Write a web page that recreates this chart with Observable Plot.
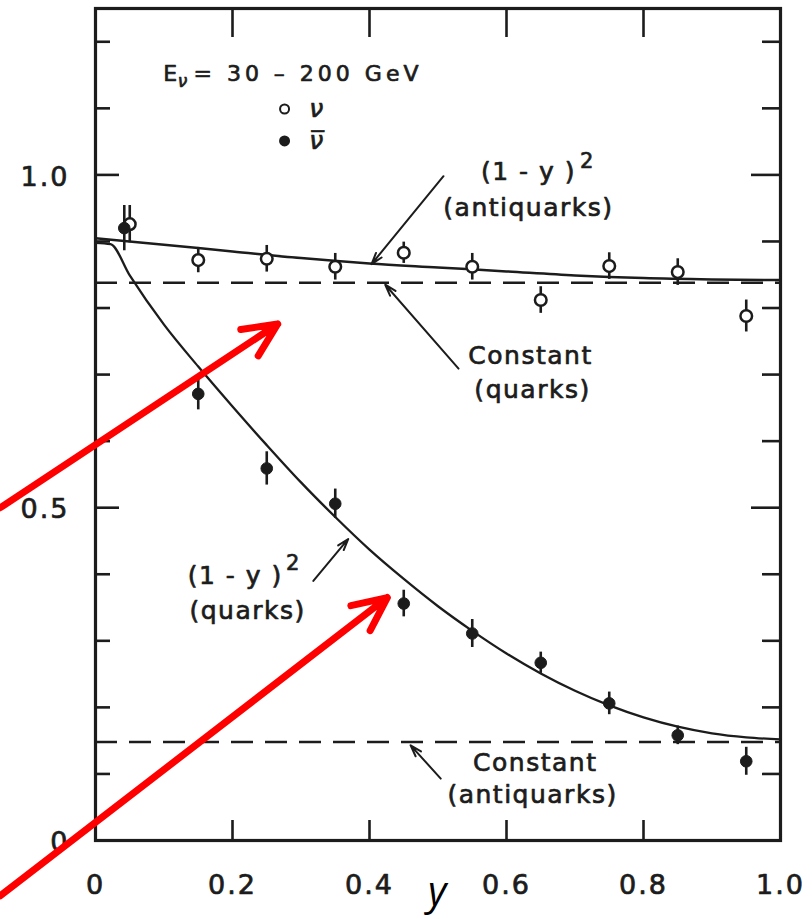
<!DOCTYPE html>
<html>
<head>
<meta charset="utf-8">
<script src="https://cdn.jsdelivr.net/npm/d3@7"></script>
<script src="https://cdn.jsdelivr.net/npm/@observablehq/plot@0.6"></script>
<style>
  html, body { margin: 0; padding: 0; background: #fff; }
  #chart svg text { letter-spacing: 1.5px; }
  #chart svg .wide text { letter-spacing: 4px; }
  #chart svg .digits text { letter-spacing: 2px; }
</style>
</head>
<body>
<div id="chart"></div>
<script>
// ---- axes -------------------------------------------------------------
const xTickValues = [0, 0.2, 0.4, 0.6, 0.8, 1.0];
const xTickLabels = ["0", "0.2", "0.4", "0.6", "0.8", "1.0"];
const xInnerTicks = [0.2, 0.4, 0.6, 0.8];
const yTickValues = [0, 0.5, 1.0];
const yTickLabels = ["0", "0.5", "1.0"];
const yMinorTicks = [0.1, 0.2, 0.3, 0.4, 0.6, 0.7, 0.8, 0.9, 1.1, 1.2];
const yMajorTicks = [0.5, 1.0];
const axisTitle = ["y"];

// ---- measured distributions (E = 30-200 GeV) --------------------------
// neutrino (open circles)
const nuBins   = [0.05, 0.15, 0.25, 0.35, 0.45, 0.55, 0.65, 0.75, 0.85, 0.95];
const nuValues = [0.926, 0.872, 0.874, 0.862, 0.883, 0.862, 0.812, 0.863, 0.854, 0.788];
const nuErrors = [0.028, 0.019, 0.020, 0.020, 0.016, 0.020, 0.020, 0.020, 0.020, 0.024];
// antineutrino (filled circles)
const nubarBins   = [0.042, 0.15, 0.25, 0.35, 0.45, 0.55, 0.65, 0.75, 0.85, 0.95];
const nubarValues = [0.920, 0.671, 0.559, 0.506, 0.356, 0.311, 0.267, 0.206, 0.158, 0.119];
const nubarErrors = [0.034, 0.024, 0.025, 0.022, 0.020, 0.021, 0.016, 0.017, 0.014, 0.021];

// ---- model curves -----------------------------------------------------
const nuCurveY      = [0, 0.1, 0.2, 0.3, 0.4, 0.5, 0.6, 0.7, 0.8, 0.9, 1.0];
const nuCurveValues = [0.905, 0.895, 0.885, 0.875, 0.867, 0.861, 0.855, 0.849, 0.845, 0.843, 0.842];
const nubarCurveY = [0, 0.022, 0.05, 0.1, 0.15, 0.2, 0.25, 0.3, 0.35, 0.4, 0.45, 0.5,
                     0.55, 0.6, 0.65, 0.7, 0.75, 0.8, 0.85, 0.9, 0.95, 1.0];
const nubarCurveValues = [0.898, 0.896, 0.849, 0.775, 0.712, 0.652, 0.594, 0.538, 0.486, 0.437, 0.393,
                          0.352, 0.315, 0.281, 0.251, 0.225, 0.203, 0.185, 0.171, 0.161, 0.155, 0.152];
const constantLevels = [0.838, 0.148];

// ---- annotations ------------------------------------------------------
const noteLabels = ["(1 - y )", "(antiquarks)", "Constant", "(quarks)",
                    "(1 - y )", "(quarks)", "Constant", "(antiquarks)"];
const noteX = [0.632, 0.632, 0.635, 0.638, 0.204, 0.222, 0.642, 0.638];
const noteY = [1.005, 0.950, 0.728, 0.677, 0.398, 0.345, 0.116, 0.069];
const powerLabels = ["2", "2"];
const powerX = [0.718, 0.289];
const powerY = [1.021, 0.416];

// pointer lines from labels to curves
const pointerX1 = [0.508, 0.530, 0.318, 0.504];
const pointerY1 = [0.998, 0.709, 0.390, 0.093];
const pointerX2 = [0.403, 0.423, 0.369, 0.460];
const pointerY2 = [0.866, 0.835, 0.453, 0.143];

// red highlight arrows
const highlightX1 = [-0.139, -0.139];
const highlightY1 = [0.500, -0.083];
const highlightX2 = [0.266, 0.426];
const highlightY2 = [0.776, 0.365];

// heading and key
const headingParts = ["E", "ν", "= 30 – 200 GeV"];
const headingX = [0.099, 0.120, 0.143];
const headingY = [1.152, 1.141, 1.152];
const keyLabels = ["ν", "ν\u0305"];
const keyFilled = [false, true];
const keyX = [0.276, 0.276];
const keyTextX = [0.312, 0.312];
const keyY = [1.099, 1.051];

// ---- tables -----------------------------------------------------------
const nu = nuBins.map((b, i) => ({y: b, v: nuValues[i], e: nuErrors[i]}));
const nubar = nubarBins.map((b, i) => ({y: b, v: nubarValues[i], e: nubarErrors[i]}));
const nuCurve = nuCurveY.map((y, i) => ({y, v: nuCurveValues[i]}));
const nubarCurve = nubarCurveY.map((y, i) => ({y, v: nubarCurveValues[i]}));
const notes = noteLabels.map((t, i) => ({t, x: noteX[i], y: noteY[i]}));
const powers = powerLabels.map((t, i) => ({t, x: powerX[i], y: powerY[i]}));
const pointers = pointerX1.map((x1, i) => ({x1, y1: pointerY1[i], x2: pointerX2[i], y2: pointerY2[i]}));
const highlights = highlightX1.map((x1, i) => ({x1, y1: highlightY1[i], x2: highlightX2[i], y2: highlightY2[i]}));
const heading = headingParts.map((t, i) => ({t, x: headingX[i], y: headingY[i]}));
const key = keyLabels.map((t, i) => ({t, filled: keyFilled[i], x: keyX[i], tx: keyTextX[i], y: keyY[i]}));
const xTicks = xTickValues.map((v, i) => ({v, t: xTickLabels[i]}));
const yTicks = yTickValues.map((v, i) => ({v, t: yTickLabels[i]}));

const ink = "#1c1c1c";
const font = "DejaVu Sans";
const W = 812, H = 919, ML = 95, MR = 32, MT = 8, MB = 79;
const FW = W - ML - MR, FH = H - MT - MB;
// a thin outline in the ink colour gives the lettering its heavier weight
const heavy = {fill: ink, stroke: ink, strokeWidth: 0.7};

const chart = Plot.plot({
  width: W, height: H,
  marginLeft: ML, marginRight: MR, marginTop: MT, marginBottom: MB,
  x: {domain: [0, 1], axis: null},
  y: {domain: [0, 1.25], axis: null},
  style: {background: "#fff", fontFamily: font, color: ink, overflow: "visible"},
  marks: [
    // tick labels
    Plot.text(xTicks, {x: "v", text: "t", frameAnchor: "bottom", dy: 45, lineAnchor: "middle",
                       fontSize: 27, className: "digits", ...heavy}),
    Plot.text(yTicks, {y: "v", text: "t", frameAnchor: "left", textAnchor: "end", dx: -26, dy: 2,
                       fontSize: 27, className: "digits", ...heavy}),
    // inward tick marks on all four sides
    Plot.tickY(yMinorTicks, {y: d => d, insetRight: FW - 15, stroke: ink, strokeWidth: 2.6}),
    Plot.tickY(yMajorTicks, {y: d => d, insetRight: FW - 24, stroke: ink, strokeWidth: 2.6}),
    Plot.tickY(yMinorTicks, {y: d => d, insetLeft: FW - 18, stroke: ink, strokeWidth: 2.6}),
    Plot.tickY(yMajorTicks, {y: d => d, insetLeft: FW - 29, stroke: ink, strokeWidth: 2.6}),
    Plot.tickX(xInnerTicks, {x: d => d, insetTop: FH - 20, stroke: ink, strokeWidth: 2.6}),
    Plot.tickX(xInnerTicks, {x: d => d, insetBottom: FH - 29, stroke: ink, strokeWidth: 2.6}),
    Plot.frame({stroke: ink, strokeWidth: 3.2}),
    // constant contributions
    Plot.ruleY(constantLevels, {y: d => d, stroke: ink, strokeWidth: 2.6, strokeDasharray: "22,12"}),
    // quark + antiquark model curves
    Plot.line(nuCurve, {x: "y", y: "v", curve: "monotone-x", stroke: ink, strokeWidth: 2.5}),
    Plot.line(nubarCurve, {x: "y", y: "v", curve: "monotone-x", stroke: ink, strokeWidth: 2.3}),
    // error bars and points
    Plot.ruleX(nu, {x: "y", y1: d => d.v - d.e, y2: d => d.v + d.e, stroke: ink, strokeWidth: 2.6}),
    Plot.ruleX(nubar, {x: "y", y1: d => d.v - d.e, y2: d => d.v + d.e, stroke: ink, strokeWidth: 2.6}),
    Plot.dot(nu, {x: "y", y: "v", r: 5.8, fill: "#fff", stroke: ink, strokeWidth: 2.5}),
    Plot.dot(nubar, {x: "y", y: "v", r: 5.8, fill: ink, stroke: ink, strokeWidth: 1}),
    // heading and key
    Plot.text(heading.slice(0, 1), {x: "x", y: "y", text: "t", textAnchor: "start", fontSize: 22, ...heavy}),
    Plot.text(heading.slice(1, 2), {x: "x", y: "y", text: "t", textAnchor: "start", fontSize: 17, fontStyle: "italic", ...heavy}),
    Plot.text(heading.slice(2), {x: "x", y: "y", text: "t", textAnchor: "start", fontSize: 22, className: "wide", ...heavy}),
    Plot.dot(key, {x: "x", y: "y", r: 4.5, fill: d => d.filled ? ink : "#fff", stroke: ink, strokeWidth: 2}),
    Plot.text(key, {x: "tx", y: "y", text: "t", textAnchor: "start", fontSize: 25, fontStyle: "italic", ...heavy}),
    // curve labels
    Plot.text(notes, {x: "x", y: "y", text: "t", fontSize: 25, ...heavy}),
    Plot.text(powers, {x: "x", y: "y", text: "t", fontSize: 21, ...heavy}),
    Plot.arrow(pointers, {x1: "x1", y1: "y1", x2: "x2", y2: "y2", stroke: ink, strokeWidth: 2,
                          headLength: 9, headAngle: 35}),
    // axis title
    Plot.text(axisTitle, {text: d => d, frameAnchor: "bottom", dy: 52, lineAnchor: "middle",
                          fontSize: 40, fontStyle: "italic", fontFamily: "Open Sans", fill: "#000"}),
    // red highlight arrows
    Plot.arrow(highlights, {x1: "x1", y1: "y1", x2: "x2", y2: "y2", stroke: "#ff0000", strokeWidth: 7,
                            headLength: 8, headAngle: 50})
  ]
});

document.getElementById("chart").appendChild(chart);
</script>
</body>
</html>
